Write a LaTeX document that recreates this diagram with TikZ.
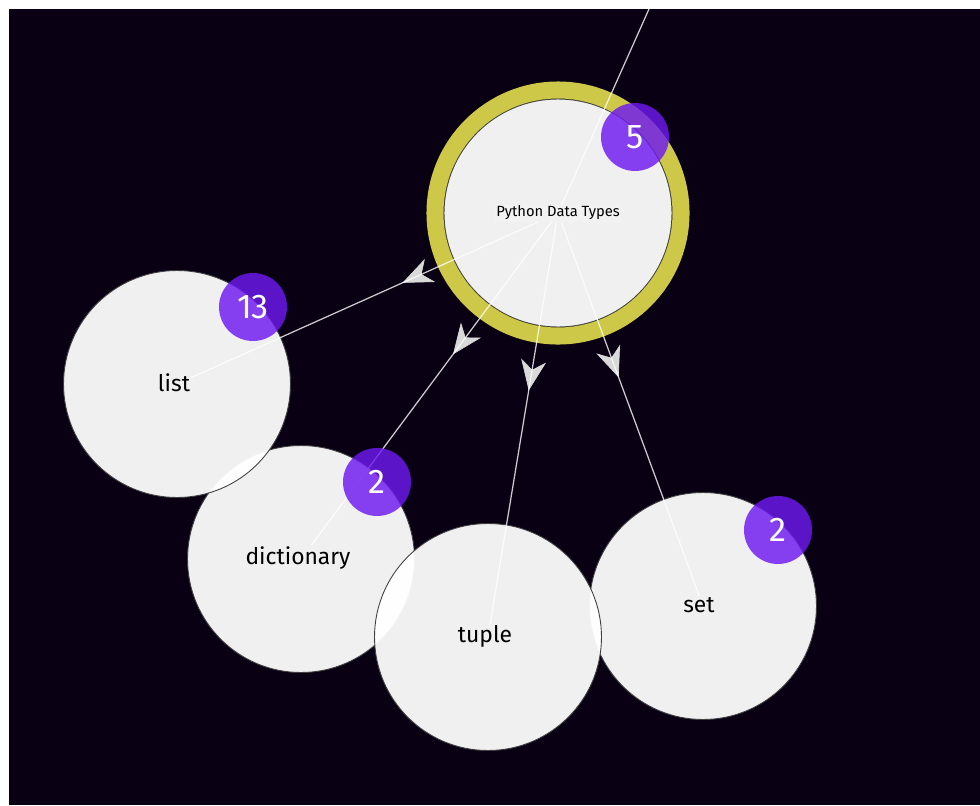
\documentclass[tikz,border=0pt]{standalone}
\usepackage{fontspec}
\setmainfont{Fira Sans}
\usetikzlibrary{arrows.meta,decorations.markings}

\definecolor{night}{RGB}{10,0,20}
\definecolor{ringgold}{RGB}{206,200,72}
\definecolor{countviolet}{RGB}{110,25,240}
\definecolor{paper}{RGB}{240,240,240}

\begin{document}
\begin{tikzpicture}[x=0.02cm, y=-0.02cm,
  bubble/.style={circle, draw=black!75, line width=0.5pt, fill=white, fill opacity=0.94, minimum size=4.54cm, inner sep=0pt},
  hub/.style={bubble, minimum size=4.56cm},
  ring/.style={draw=ringgold, line width=9.7pt},
  link/.style={draw=white, draw opacity=0.8, line width=0.7pt},
  midarrow/.style={preaction={decorate}, decoration={markings, mark=at position #1 with {\arrow{Stealth[length=18pt, width=15pt, inset=5.5pt, color=black!15, fill=black!15]}}}},
  tag/.style={font=\fontsize{13pt}{15pt}\selectfont, text=black, fill=paper, inner sep=0.8pt},
  counter/.style={circle, fill=countviolet, fill opacity=0.82, text opacity=1, text=white, minimum size=1.36cm, inner sep=0pt, font=\fontsize{19.5pt}{21pt}\selectfont},
]
  \useasboundingbox (0,0) rectangle (980,805);
  \fill[white] (0,0) rectangle (980,805);
  \fill[night] (9,9) rectangle (980,805);
  \node[hub] (hub) at (558,213) {};
  \draw[ring] (hub.center) circle[radius=123];
  \node[bubble] (dictionary) at (301,559) {};
  \node[bubble] (list) at (177,384) {};
  \node[bubble] (set) at (703,606) {};
  \node[bubble] (tuple) at (488,637) {};
  \coordinate (parent) at (649,9);
  \draw[link] (hub.center) -- (parent);
  \draw[link, midarrow=0.41] (hub.center) -- (list.center);
  \draw[link, midarrow=0.41] (hub.center) -- (dictionary.center);
  \draw[link, midarrow=0.42] (hub.center) -- (tuple.center);
  \draw[link, midarrow=0.42] (hub.center) -- (set.center);
  \node[tag, font=\fontsize{8.4pt}{10pt}\selectfont, fill=white!95!black] (hublabel) at (hub) {Python Data Types};
  \node[tag] (listlabel) at (174,383) {list};
  \node[tag] (dictionarylabel) at (298,558) {dictionary};
  \node[tag] (tuplelabel) at (485,636) {tuple};
  \node[tag] (setlabel) at (699,605) {set};
  \node[counter] (hubcount) at (635,137) {5};
  \node[counter] (listcount) at (253,307) {13};
  \node[counter] (dictionarycount) at (377,482) {2};
  \node[counter] (setcount) at (778,530) {2};
\end{tikzpicture}
\end{document}
